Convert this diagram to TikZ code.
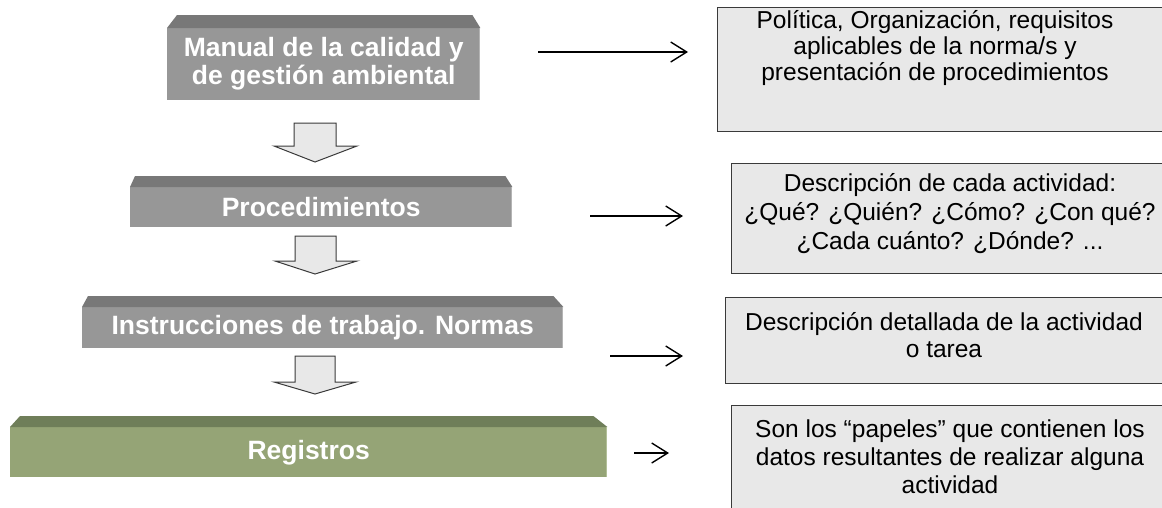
\documentclass[tikz,border=0pt]{standalone}
\usepackage{fontspec}
\setmainfont{Liberation Sans}
\usetikzlibrary{arrows.meta,calc}
\definecolor{barfront}{HTML}{979797}
\definecolor{bartop}{HTML}{787878}
\definecolor{baredge}{HTML}{B4B4B4}
\definecolor{grnfront}{HTML}{95A476}
\definecolor{grntop}{HTML}{6F7E59}
\definecolor{grnedge}{HTML}{B2BF98}
\definecolor{boxfill}{HTML}{E8E8E8}
\definecolor{boxline}{HTML}{3A3A3A}
\begin{document}
\begin{tikzpicture}[x=1pt,y=-1pt,
  bar/.style={rectangle, inner sep=0pt, text=white, align=center, anchor=north west,
    font=\fontsize{26.5}{28}\selectfont\bfseries},
  rbox/.style={rectangle, draw=boxline, fill=boxfill, line width=1.2pt, inner sep=0pt, anchor=north west},
  rtext/.style={align=center, inner sep=0pt, text=black},
  barrow/.style={draw=boxline, fill=boxfill, line width=1pt, line join=miter},
  conn/.style={line width=1.4pt, -{Straight Barb[length=16pt,width=20pt,line width=1.4pt]}}
]
\useasboundingbox (0,0) rectangle (1162,507);
\clip (0,0) rectangle (1162,507);

% ---- left 3D bars ----
\node[bar, fill=barfront, minimum width=313pt, minimum height=72pt] (m1) at (167,28)
  {Manual de la calidad y\\de gestión ambiental};
\fill[bartop] (m1.north west) -- ++(10,-13) -- ($(m1.north east)+(-8,-13)$) -- (m1.north east) -- cycle;
\draw[baredge, line width=1.2pt] ($(m1.north east)+(-0.6,0)$) -- ($(m1.south east)+(-0.6,0)$);

\node[bar, fill=barfront, minimum width=382pt, minimum height=40pt] (m2) at (130,187)
  {Procedimientos};
\fill[bartop] (m2.north west) -- ++(5,-11) -- ($(m2.north east)+(-7,-11)$) -- (m2.north east) -- cycle;
\draw[baredge, line width=1.2pt] ($(m2.north east)+(-0.6,0)$) -- ($(m2.south east)+(-0.6,0)$);

\node[bar, fill=barfront, minimum width=481pt, minimum height=41pt] (m3) at (82,307)
  {Instrucciones de trabajo. Normas};
\fill[bartop] (m3.north west) -- ++(6,-11) -- ($(m3.north east)+(-10,-11)$) -- (m3.north east) -- cycle;
\draw[baredge, line width=1.2pt] ($(m3.north east)+(-0.6,0)$) -- ($(m3.south east)+(-0.6,0)$);

\node[bar, fill=grnfront, minimum width=597pt, minimum height=50pt] (m4) at (10,427)
  {Registros};
\fill[grntop] (m4.north west) -- ++(10,-11) -- ($(m4.north east)+(-14,-11)$) -- (m4.north east) -- cycle;
\draw[grnedge, line width=1.2pt] ($(m4.north east)+(-0.6,0)$) -- ($(m4.south east)+(-0.6,0)$);

% ---- block arrows between bars ----
\draw[barrow] (294,123) -- (336,123) -- (336,146) -- (357,146) -- (315,162) -- (274,146) -- (294,146) -- cycle;
\draw[barrow] (295,236) -- (336,236) -- (336,261) -- (357,261) -- (315,274) -- (275,261) -- (295,261) -- cycle;
\draw[barrow] (295,356) -- (335,356) -- (335,382) -- (356,382) -- (315,394) -- (274,382) -- (295,382) -- cycle;

% ---- right boxes ----
\node[rbox, minimum width=470pt, minimum height=124pt] (b1) at (717,7) {};
\node[rbox, minimum width=460pt, minimum height=110pt] (b2) at (731,163) {};
\node[rbox, minimum width=470pt, minimum height=86pt] (b3) at (725,297) {};
\node[rbox, minimum width=460pt, minimum height=125pt] (b4) at (731,405) {};

\node[rtext, font=\fontsize{24.5}{26}\selectfont] (t1) at (935,48)
  {Política, Organización, requisitos\\aplicables de la norma/s y\\presentación de procedimientos};
\node[rtext, font=\fontsize{24.5}{29}\selectfont] (t2) at (950,214)
  {Descripción de cada actividad:\\¿Qué? ¿Quién? ¿Cómo? ¿Con qué?\\¿Cada cuánto? ¿Dónde? ...};
\node[rtext, font=\fontsize{24.5}{27}\selectfont] (t3) at (944,335.5)
  {Descripción detallada de la actividad\\o tarea};
\node[rtext, font=\fontsize{24.5}{28}\selectfont] (t4) at (950,457)
  {Son los “papeles” que contienen los\\datos resultantes de realizar alguna\\actividad};

% ---- connectors ----
\coordinate (a1s) at (538,52);  \coordinate (a1e) at (688,52);
\coordinate (a2s) at (590,216); \coordinate (a2e) at (683,216);
\coordinate (a3s) at (610,356); \coordinate (a3e) at (683,356);
\coordinate (a4s) at (634,453); \coordinate (a4e) at (669,453);
\draw[conn] (a1s) -- (a1e);
\draw[conn] (a2s) -- (a2e);
\draw[conn] (a3s) -- (a3e);
\draw[conn] (a4s) -- (a4e);
\end{tikzpicture}
\end{document}
